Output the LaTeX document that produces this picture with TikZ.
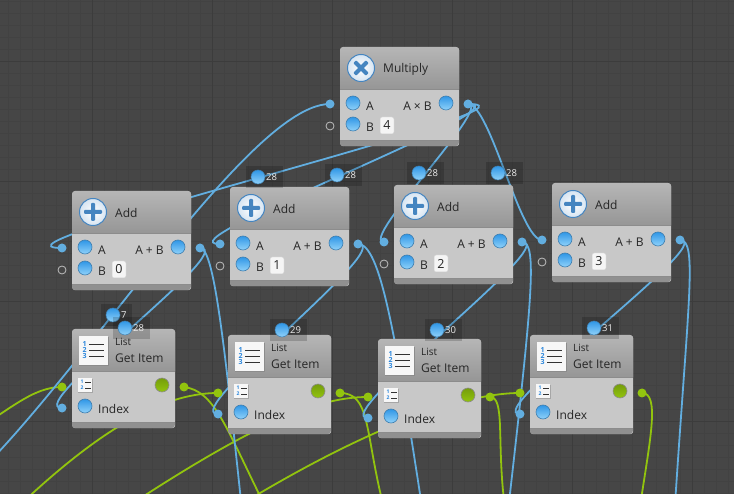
\documentclass[tikz,border=0pt]{standalone}
\usepackage{fontspec}
\setmainfont{Open Sans}
\usetikzlibrary{calc}
\pgfdeclarelayer{floor}
\pgfdeclarelayer{wires}
\pgfsetlayers{floor,wires,main}
\definecolor{canvas}{HTML}{464646}
\definecolor{gridminor}{HTML}{424242}
\definecolor{gridmajor}{HTML}{3C3C3C}
\definecolor{wireblue}{HTML}{62AEE0}
\definecolor{wiregreen}{HTML}{92C40E}
\definecolor{paneltop}{HTML}{B6B6B6}
\definecolor{panelmid}{HTML}{969696}
\definecolor{panelbody}{HTML}{C8C8C8}
\definecolor{panelfoot}{HTML}{909090}
\definecolor{porttop}{HTML}{2F96E6}
\definecolor{portbot}{HTML}{90D2FA}
\definecolor{portrim}{HTML}{3F7FB0}
\definecolor{iconblue}{HTML}{4585C0}
\definecolor{numblue}{HTML}{2A86DC}
\tikzset{
  bluewire/.style={draw=wireblue,line width=1.8pt},
  greenwire/.style={draw=wiregreen,line width=1.8pt},
  panel/.style={draw=none,fill=panelbody,inner sep=0pt,rounded corners=3pt,anchor=north west,minimum height=99pt},
  bluedot/.style={circle,fill=wireblue,inner sep=0pt,minimum size=9pt},
  greendot/.style={circle,fill=wiregreen,inner sep=0pt,minimum size=9pt},
  emptydot/.style={circle,draw=black!25,line width=0.8pt,inner sep=0pt,minimum size=8pt},
  blueport/.style={circle,draw=portrim,line width=0.6pt,top color=porttop,bottom color=portbot,inner sep=0pt,minimum size=14pt},
  greenport/.style={circle,draw=black!45,line width=0.6pt,top color=wiregreen!80!black,bottom color=wiregreen,inner sep=0pt,minimum size=14pt},
  portlabel/.style={font=\fontsize{12}{12}\selectfont,text=black!85,inner sep=0pt},
  titlelabel/.style={font=\fontsize{12}{12}\selectfont,text=black!85,inner sep=0pt,anchor=west},
  itemlabel/.style={font=\fontsize{12}{12}\selectfont,text=black!85,inner sep=0pt,anchor=west},
  listlabel/.style={font=\fontsize{10}{10}\selectfont,text=black!85,inner sep=0pt,anchor=west},
  valuebox/.style={draw=black!20,fill=black!4,rounded corners=2pt,line width=0.5pt,inner sep=0pt,minimum width=14pt,minimum height=17pt,font=\fontsize{12.5}{12.5}\selectfont,text=black!85},
  roundicon/.style={circle,draw=iconblue,line width=1pt,inner color=white,outer color=iconblue!22!white,inner sep=0pt,minimum size=27pt},
  badgerect/.style={fill=black,fill opacity=0.18,inner sep=0pt,minimum height=22pt,anchor=west},
  badgedot/.style={circle,draw=portrim,line width=0.5pt,top color=porttop,bottom color=portbot,inner sep=0pt,minimum size=14pt},
  badgetext/.style={font=\fontsize{9.5}{9.5}\selectfont,text=black!8,inner sep=0pt}
}
% panel with header and foot, #1 name, #2 pos, #3 width
\newcommand{\panelbox}[3]{%
  \node[panel,minimum width=#3pt] (#1) at (#2) {};
  \begin{scope}[shift={(#2)}]
    \begin{scope}
      \clip[rounded corners=3pt] (0,0) rectangle (#3,99);
      \shade[top color=paneltop,bottom color=panelmid] (0,0) rectangle (#3,42);
      \fill[black!45] (0,42) rectangle (#3,43);
      \fill[panelfoot] (0,93) rectangle (#3,99);
      \fill[black!45] (0,93) rectangle (#3,93.7);
    \end{scope}
  \end{scope}}
% multiply or add unit, #1 name, #2 pos, #3 title, #4 symbol, #5 value
\newcommand{\mathunit}[5]{%
  \panelbox{#1}{#2}{119}
  \begin{scope}[shift={(#2)}]
    \node[roundicon] (#1icon) at (21,21) {};
    \fill[iconblue,rotate around={#4:(21,21)},rounded corners=1pt] (19,12) rectangle (23,30) (12,19) rectangle (30,23);
    \node[titlelabel] (#1title) at (43,22) {#3};
    \node[blueport] (#1a) at (13,56) {};
    \node[blueport] (#1b) at (13,77) {};
    \node[blueport] (#1res) at (106,56) {};
    \node[portlabel] (#1alab) at (30,59) {A};
    \node[portlabel] (#1blab) at (30,80) {B};
    \node[portlabel] (#1reslab) at (77.5,59) {A \ifnum#4=0 +\else×\fi{} B};
    \node[valuebox] (#1val) at (47,78.5) {#5};
    \node[bluedot] (#1ain) at (-10,57) {};
    \node[emptydot] (#1bin) at (-10,79) {};
    \node[bluedot] (#1out) at (128,57) {};
  \end{scope}}
% list get item unit, #1 name, #2 pos
\newcommand{\itemunit}[2]{%
  \panelbox{#1}{#2}{103}
  \begin{scope}[shift={(#2)}]
    \fill[black!45] (7,8) rectangle (37,37);
    \node[fill=black!3,inner sep=0pt,minimum size=28.5pt,anchor=north west] (#1icon) at (7,7) {};
    \foreach \row/\num in {0/1,6/2,12/3} {
      \draw[black!80,line width=0.8pt] (17,15+\row) -- (32,15+\row);
      \node[inner sep=0pt,font=\bfseries\fontsize{7}{7}\selectfont,text=numblue] at (12.5,15+\row) {\num};
    }
    \fill[black!35] (6,50) rectangle (21,64);
    \node[fill=black!3,inner sep=0pt,minimum size=14pt,anchor=north west] (#1small) at (6,49) {};
    \foreach \row/\num in {0/1,6/2} {
      \draw[black!80,line width=0.6pt] (13,53+\row) -- (19,53+\row);
      \node[inner sep=0pt,font=\bfseries\fontsize{5}{5}\selectfont,text=numblue] at (10,53+\row) {\num};
    }
    \node[listlabel] (#1list) at (43,12.5) {List};
    \node[itemlabel] (#1title) at (43,29) {Get Item};
    \node[itemlabel] (#1idxlab) at (26,80) {Index};
    \node[blueport] (#1idx) at (13,77) {};
    \node[greenport] (#1res) at (90,56) {};
    \node[greendot] (#1lin) at (-10,58) {};
    \node[bluedot] (#1iin) at (-10,79) {};
    \node[greendot] (#1out) at (112,58) {};
  \end{scope}}
% value badge on a wire, #1 name, #2 pos of dot, #3 text, #4 width
\newcommand{\badge}[4]{%
  \node[badgerect,minimum width=#4pt] (#1box) at ($(#2)+(-12,0)$) {};
  \node[badgedot] (#1) at (#2) {};
  \node[badgetext,anchor=west] (#1txt) at ($(#2)+(8,0.5)$) {#3};}
\begin{document}
\begin{tikzpicture}[x=1pt,y=-1pt]
  \useasboundingbox (0,0) rectangle (734,494);
  \begin{pgfonlayer}{floor}
    \fill[canvas] (0,0) rectangle (734,494);
    \foreach \i in {0,...,60} \draw[gridminor,line width=0.8pt] (8.5+12*\i,0) -- (8.5+12*\i,494);
    \foreach \i in {0,...,41} \draw[gridminor,line width=0.8pt] (0,1+12*\i) -- (734,1+12*\i);
    \foreach \i in {0,...,5} \draw[gridmajor,line width=0.8pt] (92.5+120*\i,0) -- (92.5+120*\i,494);
    \foreach \i in {0,...,3} \draw[gridmajor,line width=0.8pt] (0,61+120*\i) -- (734,61+120*\i);
  \end{pgfonlayer}

  \mathunit{mult}{340,47}{Multiply}{45}{4}
  \mathunit{addzero}{72,191}{Add}{0}{0}
  \mathunit{addone}{230,187}{Add}{0}{1}
  \mathunit{addtwo}{394,185}{Add}{0}{2}
  \mathunit{addthree}{552,183}{Add}{0}{3}
  \itemunit{itemzero}{72,329}
  \itemunit{itemone}{228,335}
  \itemunit{itemtwo}{378,339}
  \itemunit{itemthree}{530,335}

  % free ends outside the picture
  \coordinate (srcmult) at (-105,526);
  \coordinate (dstzero) at (243,520);
  \coordinate (dstone) at (424,520);
  \coordinate (dsttwo) at (507,520);
  \coordinate (dstthree) at (674,520);
  \coordinate (srclistzero) at (-40,440);
  \coordinate (srclistone) at (20,505);
  \coordinate (srclisttwo) at (130,505);
  \coordinate (srclistthree) at (240,505);
  \coordinate (dstgreenzero) at (262,500);
  \coordinate (dstgreenone) at (382,500);
  \coordinate (dstgreentwo) at (504,500);
  \coordinate (dstgreenthree) at (641,500);

  \begin{pgfonlayer}{wires}
    \clip (0,0) rectangle (734,494);
    \draw[greenwire] (srclistzero) .. controls +(50,-30) and +(-30,0) .. (itemzerolin.center);
    \draw[greenwire] (srclistone) .. controls (110,420) and (170,393) .. (itemonelin.center);
    \draw[greenwire] (srclisttwo) .. controls (260,420) and (320,397) .. (itemtwolin.center);
    \draw[greenwire] (srclistthree) .. controls (380,420) and (470,393) .. (itemthreelin.center);
    \draw[greenwire] (itemzeroout.center) .. controls +(30,4) and (225,425) .. (dstgreenzero);
    \draw[greenwire] (itemoneout.center) .. controls +(30,0) and (365,430) .. (dstgreenone);
    \draw[greenwire] (itemtwoout.center) .. controls +(15,0) and (497,440) .. (dstgreentwo);
    \draw[greenwire] (itemthreeout.center) .. controls +(18,0) and (650,440) .. (dstgreenthree);

    \draw[bluewire] (srcmult) .. controls +(100,0) and +(-100,0) .. (multain.center);
    \draw[bluewire] (multout.center) .. controls +(100,0) and +(-100,0) .. (addzeroain.center);
    \draw[bluewire] (multout.center) .. controls +(63,0) and +(-63,0) .. (addoneain.center);
    \draw[bluewire] (multout.center) .. controls +(26,0) and +(-26,0) .. (addtwoain.center);
    \draw[bluewire] (multout.center) .. controls +(22,0) and +(-22,0) .. (addthreeain.center);
    \draw[bluewire] (addzeroout.center) .. controls +(40,0) and +(-40,0) .. (itemzeroiin.center);
    \draw[bluewire] (addoneout.center) .. controls +(40,0) and +(-40,0) .. (itemoneiin.center);
    \draw[bluewire] (addtwoout.center) .. controls +(40,0) and +(-40,0) .. (itemtwoiin.center);
    \draw[bluewire] (addthreeout.center) .. controls +(40,0) and +(-40,0) .. (itemthreeiin.center);
    \draw[bluewire] (addzeroout.center) .. controls +(14,0) and (224,340) .. (dstzero);
    \draw[bluewire] (addoneout.center) .. controls +(22,0) and (395,330) .. (dstone);
    \draw[bluewire] (addtwoout.center) .. controls +(16,0) and (532,300) .. (dsttwo);
    \draw[bluewire] (addthreeout.center) .. controls +(18,0) and (688,300) .. (dstthree);
  \end{pgfonlayer}

  \badge{valseven}{113,315}{7}{31}
  \badge{valzero}{125,328}{28}{37}
  \badge{valaddzero}{258,177}{28}{37}
  \badge{valaddone}{337,175}{28}{37}
  \badge{valaddtwo}{419,173}{28}{37}
  \badge{valaddthree}{498,173}{28}{37}
  \badge{valone}{282,330}{29}{37}
  \badge{valtwo}{437,330}{30}{37}
  \badge{valthree}{594,328}{31}{37}
\end{tikzpicture}
\end{document}
